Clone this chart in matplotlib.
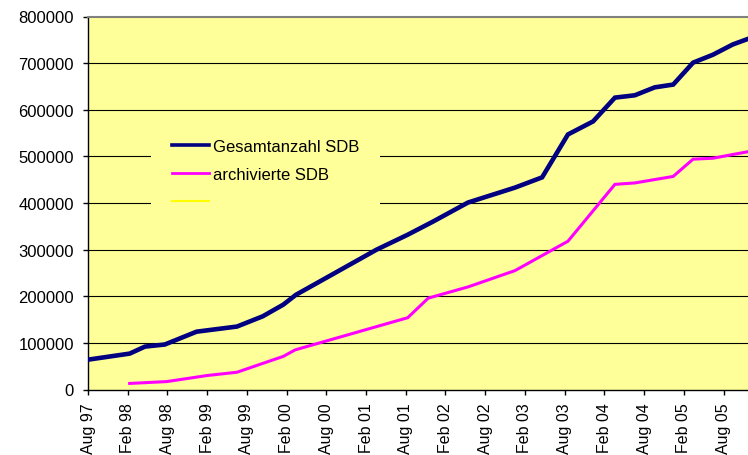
import matplotlib
matplotlib.use("Agg")
import matplotlib.pyplot as plt
from matplotlib.lines import Line2D

# x = months since Aug 1997
GES_MONTHS = [0, 6.3, 8.6, 11.6, 16.4, 22.5, 26.4, 29.5, 31.4, 43.6, 48.3,
              52.1, 57.4, 64.5, 68.6, 72.5, 76.3, 79.6, 82.6, 85.6, 88.4,
              91.4, 94.4, 97.4, 99.7]
GES_VALUES = [64000, 77000, 92000, 96500, 124000, 135000, 157000, 182000,
              203000, 300000, 332000, 360000, 401000, 433000, 455000,
              547000, 575000, 626000, 631000, 648000, 654000, 701000,
              718000, 740000, 752000]

ARCH_MONTHS = [6.3, 11.9, 18.0, 22.5, 26.4, 29.5, 31.3, 48.3, 51.4, 57.4,
               64.5, 72.5, 79.6, 82.6, 88.4, 91.4, 94.4, 97.4, 99.7]
ARCH_VALUES = [13000, 17000, 30000, 37000, 56000, 71000, 85000, 154000,
               196000, 220000, 255000, 318000, 440000, 443000, 457000,
               494000, 496000, 504000, 510000]

TICK_MONTHS = list(range(0, 97, 6))
TICK_LABELS = ["Aug 97", "Feb 98", "Aug 98", "Feb 99", "Aug 99", "Feb 00",
               "Aug 00", "Feb 01", "Aug 01", "Feb 02", "Aug 02", "Feb 03",
               "Aug 03", "Feb 04", "Aug 04", "Feb 05", "Aug 05"]
Y_TICKS = list(range(0, 800001, 100000))

BG = "#FFFF99"
NAVY = "#000080"
MAGENTA = "#FF00FF"

plt.rcParams["font.family"] = ["Liberation Sans", "DejaVu Sans"]

fig = plt.figure(figsize=(7.48, 4.56), dpi=100)
ax = fig.add_axes([88 / 748, 65.5 / 456, 660 / 748, 373 / 456])
ax.set_facecolor(BG)

for y in Y_TICKS[1:-1]:
    ax.axhline(y, color="black", lw=0.8, zorder=1)

ax.plot(GES_MONTHS, GES_VALUES, color=NAVY, lw=3.3, zorder=3,
        solid_joinstyle="miter")
ax.plot(ARCH_MONTHS, ARCH_VALUES, color=MAGENTA, lw=2.2, zorder=3,
        solid_joinstyle="miter")

ax.set_xlim(0, 99.7)
ax.set_ylim(0, 800000)
ax.set_xticks(TICK_MONTHS)
ax.set_xticklabels(TICK_LABELS, rotation=90, fontsize=11.5)
ax.set_yticks(Y_TICKS)
ax.set_yticklabels([str(v) for v in Y_TICKS], fontsize=12)
ax.tick_params(axis="x", direction="out", length=3.6, width=1, pad=5.5)
ax.tick_params(axis="y", direction="out", length=3.6, width=1, pad=6.5)

ax.spines["right"].set_visible(False)
ax.spines["top"].set_color("#808080")
ax.spines["top"].set_linewidth(1.5)
ax.spines["left"].set_linewidth(1.0)
ax.spines["bottom"].set_linewidth(1.0)

handles = [Line2D([], [], color=NAVY, lw=2.6),
           Line2D([], [], color=MAGENTA, lw=2.0),
           Line2D([], [], color="#FFFF00", lw=1.5)]
labels = ["Gesamtanzahl SDB", "archivierte SDB", ""]
leg = ax.legend(handles, labels, loc="upper left",
                bbox_to_anchor=(0.0955, 0.727), borderaxespad=0,
                fontsize=12, frameon=True, facecolor=BG, edgecolor="none",
                framealpha=1, fancybox=False, borderpad=1.25,
                handlelength=2.2, handletextpad=0.25, labelspacing=0.78)
leg.set_zorder(2)

fig.savefig("out.png", dpi=100)
